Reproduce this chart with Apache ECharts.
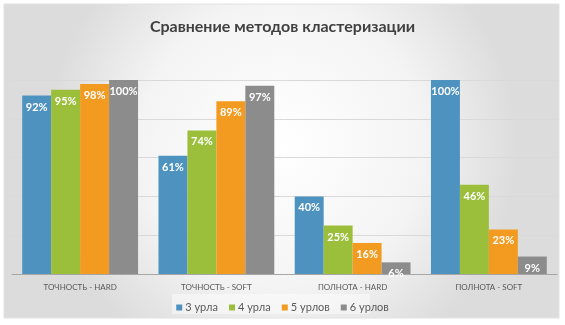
<!DOCTYPE html>
<html>
<head>
<meta charset="utf-8">
<script src="https://cdn.jsdelivr.net/npm/echarts@6/dist/echarts.min.js"></script>
<style>
html,body{margin:0;padding:0;background:#fff;}
#c{width:565px;height:325px;}
</style>
</head>
<body>
<div id="c"></div>
<script>
const categories = ['ТОЧНОСТЬ - HARD', 'ТОЧНОСТЬ - SOFT', 'ПОЛНОТА - HARD', 'ПОЛНОТА - SOFT'];
const seriesNames = ['3 урла', '4 урла', '5 урлов', '6 урлов'];
const s3 = [92, 61, 40, 100];
const s4 = [95, 74, 25, 46];
const s5 = [98, 89, 16, 23];
const s6 = [100, 97, 6, 9];
const colors = ['#4e93bf', '#9cbf3b', '#f39a21', '#8c8c8c'];

const chart = echarts.init(document.getElementById('c'), null, {renderer: 'canvas'});
const values = [s3, s4, s5, s6];
const series = values.map((v, i) => ({
  name: seriesNames[i],
  type: 'bar',
  data: v,
  barGap: '0%',
  barCategoryGap: '15%',
  itemStyle: {color: colors[i]},
  label: {
    show: true,
    position: 'insideTop',
    distance: 6,
    formatter: '{c}%',
    color: '#fff',
    fontFamily: 'Lato',
    fontWeight: 'bold',
    fontSize: 11
  }
}));

chart.setOption({
  animation: false,
  graphic: [
    {type: 'rect', z: -10, shape: {x: 4, y: 4, width: 555, height: 314},
     style: {fill: {type: 'radial', x: 0.5, y: 0.45, r: 0.75,
       colorStops: [{offset: 0, color: '#ffffff'}, {offset: 0.6, color: '#f4f4f4'}, {offset: 1, color: '#dcdcdc'}]},
       stroke: '#e2e2e2', lineWidth: 1}},
    {type: 'rect', z: -9, shape: {x: 172, y: 294, width: 198, height: 20},
     style: {fill: 'rgba(255,255,255,0.45)'}}
  ],
  title: {
    text: 'Сравнение методов кластеризации',
    left: 'center',
    top: 14,
    textStyle: {fontFamily: 'Lato', fontWeight: 'bold', fontSize: 16, color: '#404040'}
  },
  legend: {
    data: seriesNames,
    left: 'center',
    top: 297,
    icon: 'rect',
    itemWidth: 6,
    itemHeight: 6,
    itemGap: 11,
    textStyle: {fontFamily: 'Lato', fontSize: 11, color: '#595959', padding: [0, 0, 0, -2]}
  },
  grid: {left: 12, right: 8, top: 80, bottom: 51, containLabel: false},
  xAxis: {
    type: 'category',
    data: categories,
    axisTick: {show: false},
    axisLine: {lineStyle: {color: '#a6a6a6', width: 1}},
    axisLabel: {fontFamily: 'Lato', fontSize: 8, color: '#595959', margin: 9}
  },
  yAxis: {
    type: 'value',
    min: 0,
    max: 100,
    interval: 20,
    axisLabel: {show: false},
    axisLine: {show: false},
    axisTick: {show: false},
    splitLine: {lineStyle: {color: '#d9d9d9', width: 1}}
  },
  series: series
});
</script>
</body>
</html>
